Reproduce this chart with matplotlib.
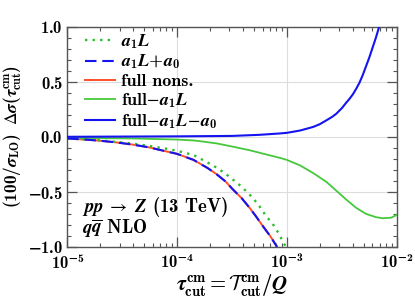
import numpy as np
import matplotlib
matplotlib.use("Agg")
import matplotlib.pyplot as plt
from matplotlib.ticker import LogLocator, MultipleLocator, FuncFormatter, NullFormatter

plt.rcParams['font.family'] = ['cmb10', 'DejaVu Serif']
plt.rcParams['mathtext.fontset'] = 'custom'
plt.rcParams['mathtext.rm'] = 'cmb10'
plt.rcParams['mathtext.bf'] = 'cmb10'
plt.rcParams['mathtext.it'] = 'STIXGeneral:bold:italic'
plt.rcParams['mathtext.cal'] = 'cmsy10'
plt.rcParams['mathtext.fallback'] = 'stix'
plt.rcParams['axes.unicode_minus'] = False

# curves (log10 of tau_cut, Delta sigma in %)
logx_nons = [-5.0, -4.84, -4.72, -4.56, -4.41, -4.26, -4.11, -4.0, -3.85, -3.72, -3.64,
             -3.56, -3.49, -3.41, -3.34, -3.28, -3.22, -3.15, -3.09]
y_nons = [-0.015, -0.025, -0.034, -0.05, -0.07, -0.095, -0.13, -0.155, -0.21, -0.285, -0.34,
          -0.405, -0.48, -0.56, -0.645, -0.725, -0.81, -0.905, -1.0]

logx_a1L = [-5.0, -4.72, -4.56, -4.41, -4.26, -4.11, -4.0, -3.85, -3.72, -3.64, -3.56,
            -3.49, -3.41, -3.34, -3.26, -3.19, -3.13, -3.08, -3.01]
y_a1L = [-0.015, -0.03, -0.046, -0.061, -0.082, -0.106, -0.128, -0.165, -0.235, -0.28, -0.335,
         -0.39, -0.455, -0.525, -0.615, -0.72, -0.79, -0.87, -1.0]

logx_sub1 = [-5.0, -4.41, -4.0, -3.85, -3.79, -3.64, -3.49, -3.34, -3.19, -3.07, -3.0,
             -2.88, -2.76, -2.64, -2.55, -2.46, -2.37, -2.28, -2.19, -2.13, -2.05, -2.0]
y_sub1 = [-0.01, -0.015, -0.025, -0.033, -0.04, -0.06, -0.09, -0.122, -0.16, -0.19, -0.21,
          -0.26, -0.33, -0.41, -0.49, -0.57, -0.645, -0.70, -0.73, -0.74, -0.735, -0.71]

logx_sub2 = [-5.0, -4.0, -3.5, -3.25, -3.07, -3.0, -2.88, -2.76, -2.70, -2.64, -2.59, -2.55,
             -2.50, -2.46, -2.43, -2.40, -2.37, -2.34, -2.31, -2.28, -2.25, -2.22, -2.19, -2.16]
y_sub2 = [0.0, 0.004, 0.008, 0.018, 0.03, 0.036, 0.057, 0.09, 0.115, 0.15, 0.18, 0.21,
          0.26, 0.31, 0.345, 0.385, 0.435, 0.49, 0.56, 0.64, 0.72, 0.81, 0.90, 1.0]

green_dot = '#2bbf2b'
green = '#46c83c'
blue = '#1414f0'
red = '#ff5028'
frame = '#555555'

fig = plt.figure(figsize=(4.15, 3.04), dpi=100)
ax = fig.add_axes([0.162, 0.188, 0.794, 0.724])

x = lambda lx: 10.0 ** np.array(lx)

ax.plot(x(logx_a1L), y_a1L, ls=(0, (1.0, 2.2)), color=green_dot, lw=1.7, label=r'$a_1L$', zorder=3)
ax.plot(x(logx_nons), y_nons, ls=(0, (5.5, 2.8)), color=blue, lw=1.5, label=r'$a_1L\!+\!a_0$', zorder=4)
ax.plot(x(logx_nons), y_nons, color=red, lw=1.4, label='full nons.', zorder=2)
ax.plot(x(logx_sub1), y_sub1, color=green, lw=1.3, label=r'full$\!-\!a_1L$', zorder=3)
ax.plot(x(logx_sub2), y_sub2, color=blue, lw=1.5, label=r'full$\!-\!a_1L\!-\!a_0$', zorder=3)

ax.set_xscale('log')
ax.set_xlim(1e-5, 1e-2)
ax.set_ylim(-1.0, 1.0)

ax.xaxis.set_major_locator(LogLocator(base=10, numticks=10))
ax.xaxis.set_minor_locator(LogLocator(base=10, subs=np.arange(2, 10), numticks=10))
ax.xaxis.set_minor_formatter(NullFormatter())
ax.xaxis.set_major_formatter(FuncFormatter(lambda v, p: r'$\mathbf{10^{%d}}$' % round(np.log10(v))))
ax.yaxis.set_major_locator(MultipleLocator(0.5))
ax.yaxis.set_minor_locator(MultipleLocator(0.1))
ax.yaxis.set_major_formatter(FuncFormatter(lambda v, p: r'$\mathbf{%.1f}$' % v))

ax.tick_params(which='both', direction='in', top=True, right=True, labelsize=12, color=frame)
ax.tick_params(which='major', length=7, width=0.9, pad=3)
ax.tick_params(which='minor', length=3.2, width=0.8)
ax.tick_params(axis='x', which='major', pad=4)
ax.grid(True, which='major', color='#dddddd', lw=0.8, zorder=0)
for s in ax.spines.values():
    s.set_color(frame)
    s.set_linewidth(1.0)

ax.set_xlabel(r'$\tau^{\rm cm}_{\rm cut} = \mathcal{T}^{\rm cm}_{\rm cut}/Q$', fontsize=15, labelpad=0)
ax.set_ylabel(r'$(100/\sigma_{\rm LO})\ \ \Delta\sigma(\tau^{\rm cm}_{\rm cut})$', fontsize=12.5, labelpad=3)

ax.legend(loc='upper left', frameon=False, fontsize=13, handlelength=1.65, handletextpad=0.35,
          labelspacing=0.13, borderaxespad=0.0, borderpad=0.0, bbox_to_anchor=(0.055, 0.975))

ax.text(0.045, 0.18, r'$pp\;\to\;Z$ (13 TeV)', transform=ax.transAxes, fontsize=13.5, va='center')
ax.text(0.045, 0.085, r'$q\overline{q}$ NLO', transform=ax.transAxes, fontsize=13.5, va='center')

fig.savefig('out.png', dpi=100)
